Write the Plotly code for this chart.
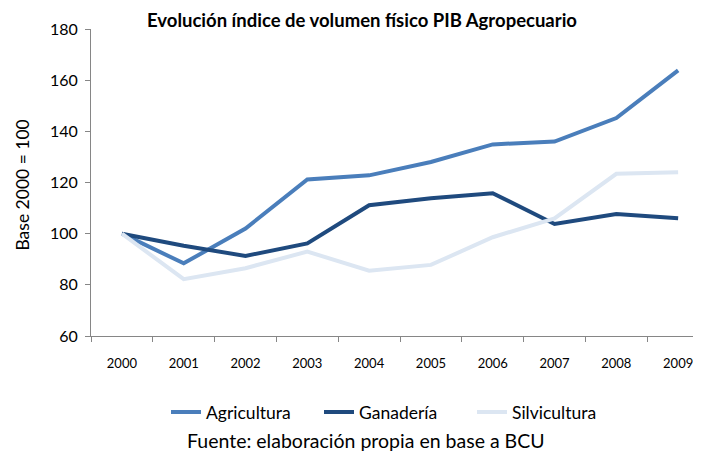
import plotly.graph_objects as go

years = ["2000", "2001", "2002", "2003", "2004", "2005", "2006", "2007", "2008", "2009"]
agricultura = [100, 88.4, 102, 121.2, 122.8, 128, 134.9, 136, 145.2, 163.8]
ganaderia = [100, 95.3, 91.3, 96.2, 111.1, 113.8, 115.8, 103.8, 107.7, 106]
silvicultura = [100, 82.2, 86.5, 93, 85.5, 87.8, 98.6, 106, 123.4, 124]

FONT = "Lato"
# page body has an 8px margin; figure is sized/positioned to compensate
W, H = 693, 447
L, T, B = 83, 21, 119
PW = W - L

fig = go.Figure()
fig.add_trace(go.Scatter(x=years, y=agricultura, name="Agricultura", mode="lines",
                         line=dict(color="#4A7EBB", width=4)))
fig.add_trace(go.Scatter(x=years, y=ganaderia, name="Ganadería", mode="lines",
                         line=dict(color="#1F4A7E", width=4)))
fig.add_trace(go.Scatter(x=years, y=silvicultura, name="Silvicultura", mode="lines",
                         line=dict(color="#DCE6F2", width=4)))

fig.update_layout(
    width=W, height=H,
    margin=dict(l=L, r=0, t=T, b=B, autoexpand=False),
    paper_bgcolor="white", plot_bgcolor="white",
    font=dict(family=FONT, color="#000000"),
    title=dict(text="<b>Evolución índice de volumen físico PIB Agropecuario</b>",
               x=354 / W, xanchor="center", y=1 - 13 / H, yanchor="middle",
               font=dict(size=18.5, family=FONT), automargin=False),
    showlegend=True,
    legend=dict(orientation="h", x=(158 - L) / PW, xanchor="left", y=-0.248, yanchor="middle",
                font=dict(size=17.5, family=FONT), entrywidth=108, traceorder="normal",
                bgcolor="rgba(0,0,0,0)"),
    xaxis=dict(type="category", range=[-0.5, 9.37], showgrid=False, showline=True,
               linecolor="#868686", linewidth=1, ticks="outside", tickson="boundaries",
               ticklen=5, tickcolor="#868686", tickfont=dict(size=13, family=FONT),
               ticklabelstandoff=15, automargin=False),
    yaxis=dict(range=[60, 180], tickvals=[60, 80, 100, 120, 140, 160, 180],
               showgrid=False, showline=True, zeroline=False,
               linecolor="#868686", linewidth=1, ticks="outside", ticklen=5,
               tickcolor="#868686", tickfont=dict(size=16, family=FONT),
               ticklabelstandoff=4, automargin=False),
    annotations=[
        dict(text="Fuente: elaboración propia en base a BCU", xref="paper", yref="paper",
             x=(358 - L) / PW, y=-0.342, xanchor="center", yanchor="middle", showarrow=False,
             font=dict(size=19.5, family=FONT)),
        dict(text="Base 2000 = 100", xref="paper", yref="paper",
             x=-(L - 15) / PW, y=0.49, xanchor="center", yanchor="middle",
             textangle=-90, showarrow=False, font=dict(size=17.5, family=FONT)),
    ],
)

fig.write_html("out.html")
